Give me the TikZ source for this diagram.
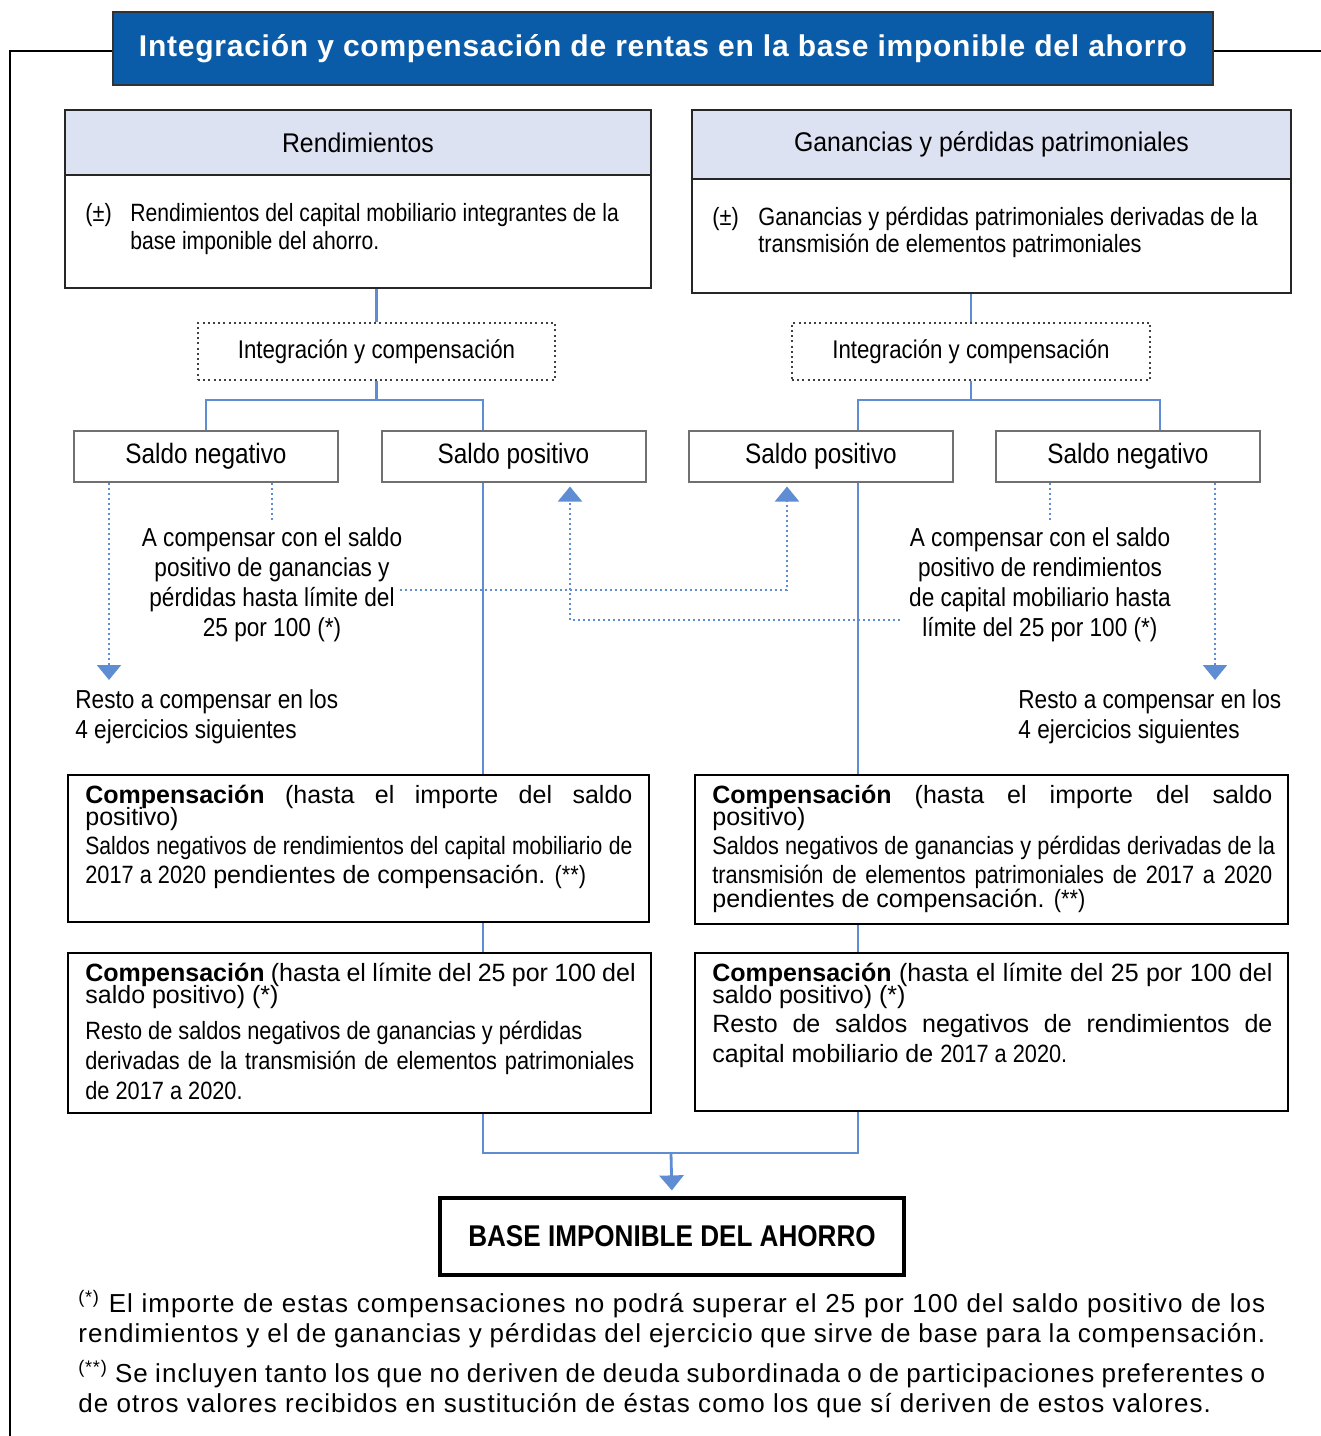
\documentclass[tikz,border=0pt]{standalone}
\usepackage{fontspec}
\setmainfont{Liberation Sans}
\newfontfamily\nar[FakeStretch=0.87]{Liberation Sans}
\newfontfamily\narr[FakeStretch=0.845]{Liberation Sans}
\newfontfamily\hdr[FakeStretch=0.92]{Liberation Sans}
\newfontfamily\reg{Liberation Sans}
\newfontfamily\foot[LetterSpace=4]{Liberation Sans}
\newfontfamily\ttl[LetterSpace=2.5]{Liberation Sans}
\usetikzlibrary{arrows.meta}
\definecolor{titleblue}{HTML}{0A5CA8}
\definecolor{hdrfill}{HTML}{DDE2F2}
\definecolor{lnblue}{HTML}{5F8DD3}
\definecolor{boxgray}{HTML}{707070}
\newcommand\jl[2]{\leavevmode\hbox to #1{\spaceskip=0.25em plus 3em\relax\xspaceskip=0.25em plus 3em\relax #2}}
\newcommand\fs[2]{\fontsize{#1}{#2}\selectfont\lineskiplimit=-100pt\relax}
\begin{document}
\begin{tikzpicture}[x=0.5pt,y=-0.5pt,
  frame/.style={draw=black, line width=1pt},
  titlebox/.style={draw=black!80, line width=1.2pt, fill=titleblue, text=white, inner sep=0pt, minimum width=550pt, minimum height=36.5pt},
  hdrbox/.style={draw=black!85, line width=1.3pt, fill=hdrfill, inner sep=0pt},
  bodybox/.style={draw=black!85, line width=1.3pt, inner sep=0pt},
  dotbox/.style={draw=black!75, line width=1pt, dash pattern=on 1pt off 1.6pt, inner sep=0pt},
  saldo/.style={draw=boxgray, line width=1pt, inner sep=0pt, minimum width=132pt, minimum height=25.5pt},
  compbox/.style={draw=black, line width=1.3pt, inner sep=0pt},
  basebox/.style={draw=black, line width=1.6pt, inner sep=0pt},
  txt/.style={inner sep=0pt, anchor=base west, align=flush left},
  ctext/.style={inner sep=0pt, anchor=center, align=center, font=\nar\fs{13}{15}},
  conn/.style={draw=lnblue, line width=1.4pt},
  dots/.style={draw=lnblue, line width=1pt, dash pattern=on 1pt off 1.5pt},
  tip/.style={-{Triangle[width=12pt,length=7.5pt]}}
]
\useasboundingbox (0,0) rectangle (1321,1436);

% title and frame
\node[titlebox, font=\ttl\bfseries\fs{15}{17}] (title) at (663,48.5) {Integración y compensación de rentas en la base imponible del ahorro};
\coordinate (frL) at (10,51);
\coordinate (frB) at (10,1436);
\coordinate (frR) at (1321,51);
\draw[frame] (title.west |- frL) -- (frL) -- (frB);
\draw[frame] (title.east |- frR) -- (frR);

% header boxes
\node[bodybox, minimum width=293pt, minimum height=56.5pt] (rendB) at (358,231.5) {};
\node[hdrbox, minimum width=293pt, minimum height=32.5pt, font=\hdr\fs{13.5}{16}] (rendH) at (358,142.5) {Rendimientos};
\node[bodybox, minimum width=299.5pt, minimum height=57pt] (ganB) at (991.5,236) {};
\node[hdrbox, minimum width=299.5pt, minimum height=34.5pt, font=\hdr\fs{13.5}{16}] (ganH) at (991.5,144.5) {Ganancias y pérdidas patrimoniales};

\node[txt, font=\nar\fs{12.5}{14}] (rendPM) at (85,221) {(±)};
\node[txt, text width=258pt, font=\narr\fs{12.5}{14}] (rendT) at (130,221) {Rendimientos del capital mobiliario integrantes de la\\base imponible del ahorro.};
\node[txt, font=\nar\fs{12.5}{13.5}] (ganPM) at (712,225) {(±)};
\node[txt, text width=262pt, font=\nar\fs{12.5}{13.5}] (ganT) at (758,225) {Ganancias y pérdidas patrimoniales derivadas de la\\transmisión de elementos patrimoniales};

% integration boxes
\node[dotbox, minimum width=178.5pt, minimum height=28.5pt, font=\nar\fs{12.8}{14}] (intL) at (376.5,351.5) {Integración y compensación};
\node[dotbox, minimum width=179pt, minimum height=28.5pt, font=\nar\fs{12.8}{14}] (intR) at (971,351.5) {Integración y compensación};

% saldo boxes
\node[saldo, font=\nar\fs{14}{16}] (negL) at (206,456) {Saldo negativo};
\node[saldo, font=\nar\fs{14}{16}] (posL) at (513.5,456) {Saldo positivo};
\node[saldo, font=\nar\fs{14}{16}] (posR) at (821,456) {Saldo positivo};
\node[saldo, font=\nar\fs{14}{16}] (negR) at (1128,456) {Saldo negativo};

% compensar texts
\node[ctext] (acL) at (272,585) {A compensar con el saldo\\positivo de ganancias y\\pérdidas hasta límite del\\25 por 100 (*)};
\node[ctext] (acR) at (1040,585) {A compensar con el saldo\\positivo de rendimientos\\de capital mobiliario hasta\\límite del 25 por 100 (*)};
\node[inner sep=0pt, anchor=west, align=left, font=\nar\fs{13}{15}] (restoL) at (75,717) {Resto a compensar en los\\4 ejercicios siguientes};
\node[inner sep=0pt, anchor=west, align=left, font=\nar\fs{13}{15}] (restoR) at (1018,717) {Resto a compensar en los\\4 ejercicios siguientes};

% compensation boxes
\node[compbox, minimum width=290.5pt, minimum height=73.5pt] (compL1) at (358.5,848.5) {};
\node[compbox, minimum width=291.5pt, minimum height=80pt] (compL2) at (359.5,1033) {};
\node[compbox, minimum width=296.5pt, minimum height=74.5pt] (compR1) at (991.5,849.5) {};
\node[compbox, minimum width=296.5pt, minimum height=79pt] (compR2) at (991.5,1032) {};

\node[txt, text width=273.5pt, font=\reg\fs{12.5}{11}] (compL1t) at (85,803) {%
\jl{273.5pt}{\textbf{Compensación} (hasta el importe del saldo}\\
positivo)\\[3.5pt]
\jl{273.5pt}{\narr Saldos negativos de rendimientos del capital mobiliario de}\\[3.5pt]
{\nar 2017 a 2020} pendientes de compensación. {\nar(**)}};

\node[txt, text width=280pt, font=\reg\fs{12.5}{11}] (compR1t) at (712,803) {%
\jl{280pt}{\textbf{Compensación} (hasta el importe del saldo}\\
positivo)\\[3.5pt]
\jl{280pt}{\nar Saldos negativos de ganancias y pérdidas derivadas de la}\\[3.5pt]
\jl{280pt}{\nar transmisión de elementos patrimoniales de 2017 a 2020}\\[1pt]
pendientes de compensación. {\nar(**)}};

\node[txt, text width=274.5pt, font=\reg\fs{12.5}{11}] (compL2t) at (85,981) {%
\jl{274.5pt}{\textbf{Compensación} (hasta el límite del 25 por 100 del}\\
saldo positivo) (*)\\[7pt]
{\nar Resto de saldos negativos de ganancias y pérdidas}\\[4pt]
\jl{274.5pt}{\nar derivadas de la transmisión de elementos patrimoniales}\\[4pt]
{\nar de 2017 a 2020.}};

\node[txt, text width=280pt, font=\reg\fs{12.5}{11}] (compR2t) at (712,981) {%
\jl{280pt}{\textbf{Compensación} (hasta el límite del 25 por 100 del}\\
saldo positivo) (*)\\[3.5pt]
\jl{280pt}{Resto de saldos negativos de rendimientos de}\\[4pt]
capital mobiliario de {\nar 2017 a 2020.}};

% base
\node[basebox, minimum width=232pt, minimum height=38.5pt, font=\nar\bfseries\fs{15}{18}] (base) at (672,1236.5) {BASE IMPONIBLE DEL AHORRO};

% footnotes
\node[txt, text width=593.5pt, font=\foot\fs{13}{15}] (notes) at (78,1312) {%
\jl{593.5pt}{\textsuperscript{(*)} El importe de estas compensaciones no podrá superar el 25 por 100 del saldo positivo de los}\\
\jl{593.5pt}{rendimientos y el de ganancias y pérdidas del ejercicio que sirve de base para la compensación.}\\[5pt]
\jl{593.5pt}{\textsuperscript{(**)} Se incluyen tanto los que no deriven de deuda subordinada o de participaciones preferentes o}\\
de otros valores recibidos en sustitución de éstas como los que sí deriven de estos valores.};

% reference x positions
\coordinate (xpL) at (483,0);
\coordinate (xpR) at (858,0);
\coordinate (xnR) at (1160,0);
\coordinate (xdL) at (109,0);
\coordinate (xsL) at (272,0);
\coordinate (xsR) at (1050,0);
\coordinate (xdR) at (1215,0);
\coordinate (xuL) at (570,0);
\coordinate (xuR) at (787,0);
\coordinate (forkL) at (376.5,400);
\coordinate (forkR) at (971,400);
\coordinate (join) at (671,1153);
\coordinate (dnL) at (109,680);
\coordinate (dnR) at (1215,680);
\coordinate (hA) at (400,590);
\coordinate (hB) at (900,620);

% solid connectors
\draw[conn] (intL.north) -- (intL.north |- rendB.south);
\draw[conn] (intR.north) -- (intR.north |- ganB.south);
\draw[conn] (intL.south) -- (forkL);
\draw[conn] (intR.south) -- (forkR);
\draw[conn] (negL.north) |- (forkL) -| (posL.north -| xpL);
\draw[conn] (posR.north -| xpR) |- (forkR) -| (negR.north -| xnR);
\draw[conn] (posL.south -| xpL) -- (compL1.north -| xpL);
\draw[conn] (compL1.south -| xpL) -- (compL2.north -| xpL);
\draw[conn] (posR.south -| xpR) -- (compR1.north -| xpR);
\draw[conn] (compR1.south -| xpR) -- (compR2.north -| xpR);
\draw[conn] (compL2.south -| xpL) |- (join) -| (compR2.south -| xpR);
\draw[conn, tip, shorten >=3pt] (join) -- (base.north);

% dotted connectors
\draw[dots, tip] (negL.south -| xdL) -- (dnL);
\draw[dots] (negL.south -| xsL) -- ++(0,37);
\draw[dots, tip] (negR.south -| xdR) -- (dnR);
\draw[dots] (negR.south -| xsR) -- ++(0,37);
\draw[dots, tip, shorten >=2pt] (hA) -| (posR.south -| xuR);
\draw[dots, tip, shorten >=2pt] (hB) -| (posL.south -| xuL);
\end{tikzpicture}
\end{document}
